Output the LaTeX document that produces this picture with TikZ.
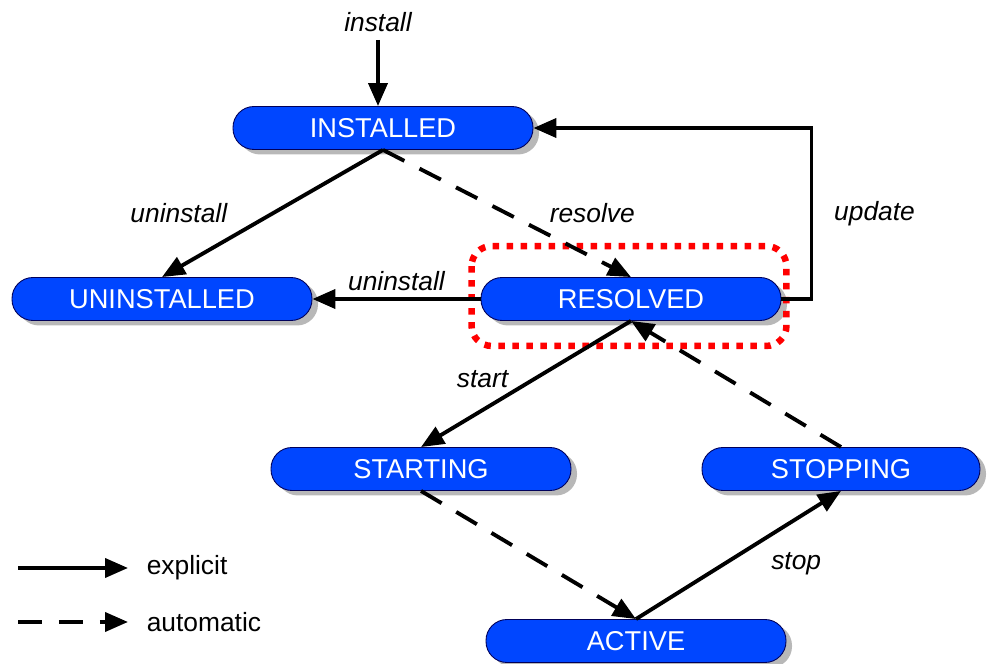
\documentclass[tikz,border=0pt]{standalone}
\usepackage{fontspec}
\setmainfont{Liberation Sans}
\usepackage{xcolor}
\usepackage{tikz}
\usetikzlibrary{arrows.meta,positioning,shadows}

\definecolor{bundleblue}{RGB}{0,70,255}

\begin{document}
\begin{tikzpicture}[
    phase/.style={draw=blue!35!black, fill=bundleblue, text=white, rounded corners=0.42cm, minimum width=6.0cm, minimum height=0.86cm, font=\fontsize{15.5}{18}\selectfont, line width=0.5pt,
      drop shadow={shadow xshift=0.12cm, shadow yshift=-0.1cm, fill=black!28, opacity=1}},
    lbl/.style={font=\fontsize{15}{18}\selectfont\itshape},
    arrow/.style={-{Triangle[length=0.46cm, width=0.38cm]}, line width=2.2pt, draw=black},
    autoarrow/.style={arrow, dash pattern=on 0.48cm off 0.34cm},
    focus/.style={draw=red, line width=0.13cm, dash pattern=on 0.13cm off 0.15cm, rounded corners=0.4cm}
]
    \useasboundingbox (0,0) rectangle (19.82,13.28);

    % Bundle states
    \node[phase] (installed) at (7.66, 10.72) {INSTALLED};
    \node[phase] (uninstalled) at (3.24, 7.30) {UNINSTALLED};
    \node[phase] (resolved) at (12.62, 7.30) {RESOLVED};
    \node[phase] (starting) at (8.42, 3.90) {STARTING};
    \node[phase, minimum width=5.56cm] (stopping) at (16.82, 3.90) {STOPPING};
    \node[phase] (active) at (12.72, 0.46) {ACTIVE};

    % Highlight
    \draw[focus] ([xshift=-0.18cm, yshift=0.62cm]resolved.north west) rectangle ([xshift=0.1cm, yshift=-0.5cm]resolved.south east);

    % Transitions
    \coordinate (install) at (7.56, 12.48);
    \draw[arrow] (install) node[above, lbl] {install} -- (install |- installed.north);
    \draw[arrow] (installed.south) -- node[left=0.75cm, lbl] {uninstall} (uninstalled.north);
    \draw[autoarrow] (installed.south) -- node[right=0.7cm, lbl] {resolve} (resolved.north);
    \draw[arrow] (resolved.west) -- node[above, lbl] {uninstall} (uninstalled.east);
    \draw[arrow] (resolved.east) -- ++(0.6,0) |- node[pos=0.25, right=0.3cm, lbl] {update} (installed.east);
    \draw[arrow] (resolved.south) -- node[left=0.2cm, yshift=0.1cm, lbl] {start} (starting.north);
    \draw[autoarrow] (starting.south) -- (active.north);
    \draw[arrow] (active.north) -- node[right=0.5cm, yshift=-0.18cm, lbl] {stop} (stopping.south);
    \draw[autoarrow] (stopping.north) -- (resolved.south);

    % Legend
    \coordinate (expA) at (0.36, 1.92);
    \coordinate (expB) at (2.56, 1.92);
    \coordinate (autoA) at (0.36, 0.84);
    \coordinate (autoB) at (2.56, 0.84);
    \draw[arrow] (expA) -- (expB) node[right=0.22cm, lbl, font=\fontsize{15}{18}\selectfont] {explicit};
    \draw[autoarrow] (autoA) -- (autoB) node[right=0.22cm, lbl, font=\fontsize{15}{18}\selectfont] {automatic};

\end{tikzpicture}
\end{document}
